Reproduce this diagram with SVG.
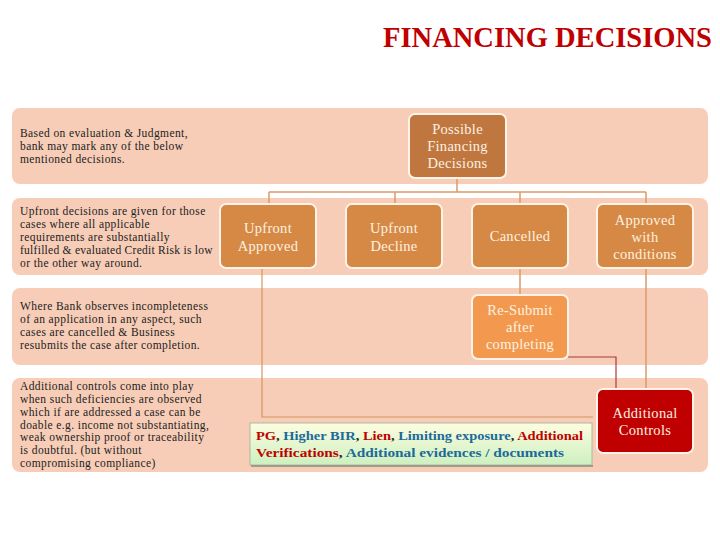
<svg xmlns="http://www.w3.org/2000/svg" width="720" height="540" viewBox="0 0 720 540">
<defs>
<linearGradient id="gr" x1="0" y1="0" x2="0" y2="1">
<stop offset="0" stop-color="#fdfde0"/>
<stop offset="1" stop-color="#cdf0c0"/>
</linearGradient>
<style>
.band{fill:#f7cdb7}
.desc{font-family:"Liberation Serif",serif;font-size:11.5px;letter-spacing:0.4px;fill:#222}
.node rect{stroke:#fdf3e8;stroke-width:2}
.nt{font-family:"Liberation Serif",serif;font-size:14.5px;letter-spacing:0.3px;fill:#fdf1e2;text-anchor:middle}
.c1{fill:none;stroke:#dc9a6a;stroke-width:1.5}
.red{fill:#c00000}
.blue{fill:#1c6a9a}
.blk{fill:#222}
</style>
</defs>
<rect width="720" height="540" fill="#fff"/>
<text x="712" y="47" text-anchor="end" font-family="Liberation Serif,serif" font-weight="bold" font-size="29" fill="#c00000" textLength="329" lengthAdjust="spacingAndGlyphs">FINANCING DECISIONS</text>

<g id="bands">
<rect class="band" x="12" y="108" width="696" height="76" rx="8"/>
<rect class="band" x="12" y="198" width="696" height="77" rx="8"/>
<rect class="band" x="12" y="288" width="696" height="77" rx="8"/>
<rect class="band" x="12" y="378" width="696" height="94" rx="8"/>
</g>

<g id="descriptions" class="desc">
<text x="20" y="137">Based on evaluation &amp; Judgment,</text>
<text x="20" y="150">bank may mark any of the below</text>
<text x="20" y="163">mentioned decisions.</text>
<text x="20" y="215">Upfront decisions are given for those</text>
<text x="20" y="228">cases where all applicable</text>
<text x="20" y="241">requirements are substantially</text>
<text x="20" y="254" textLength="193" lengthAdjust="spacing">fulfilled &amp; evaluated Credit Risk is low</text>
<text x="20" y="267">or the other way around.</text>
<text x="20" y="310">Where Bank observes incompleteness</text>
<text x="20" y="323">of an application in any aspect, such</text>
<text x="20" y="336">cases are cancelled &amp; Business</text>
<text x="20" y="349">resubmits the case after completion.</text>
<text x="20" y="390">Additional controls come into play</text>
<text x="20" y="403">when such deficiencies are observed</text>
<text x="20" y="416">which if are addressed a case can be</text>
<text x="20" y="429">doable e.g. income not substantiating,</text>
<text x="20" y="441">weak ownership proof or traceability</text>
<text x="20" y="454">is doubtful. (but without</text>
<text x="20" y="467">compromising compliance)</text>
</g>

<g id="connectors">
<path class="c1" d="M457 178V192M269 192H646M269 192V204M395 192V204M520 192V204M646 192V204"/>
<path class="c1" d="M520 268V295M646 268V389"/>
<path fill="none" stroke="#d49560" stroke-width="1.2" d="M262 268V417H593"/>
<path fill="none" stroke="#a83a3a" stroke-width="1.2" d="M568 357H616V389"/>
</g>

<g id="n-possible" class="node">
<rect x="409" y="114" width="97" height="64" rx="6" fill="#c0773f"/>
<text class="nt" x="457.5" y="134">Possible</text>
<text class="nt" x="457.5" y="151">Financing</text>
<text class="nt" x="457.5" y="168">Decisions</text>
</g>
<g id="n-upfront-approved" class="node">
<rect x="220" y="204" width="96" height="64" rx="6" fill="#d68944"/>
<text class="nt" x="268" y="233">Upfront</text>
<text class="nt" x="268" y="251">Approved</text>
</g>
<g id="n-upfront-decline" class="node">
<rect x="346" y="204" width="96" height="64" rx="6" fill="#d68944"/>
<text class="nt" x="394" y="233">Upfront</text>
<text class="nt" x="394" y="251">Decline</text>
</g>
<g id="n-cancelled" class="node">
<rect x="472" y="204" width="96" height="64" rx="6" fill="#d68944"/>
<text class="nt" x="520" y="241">Cancelled</text>
</g>
<g id="n-approved-conditions" class="node">
<rect x="597" y="204" width="96" height="64" rx="6" fill="#d68944"/>
<text class="nt" x="645" y="225">Approved</text>
<text class="nt" x="645" y="242">with</text>
<text class="nt" x="645" y="259">conditions</text>
</g>
<g id="n-resubmit" class="node">
<rect x="472" y="295" width="96" height="64" rx="6" fill="#f2994f"/>
<text class="nt" x="520" y="315">Re-Submit</text>
<text class="nt" x="520" y="332">after</text>
<text class="nt" x="520" y="349">completing</text>
</g>
<g id="n-additional-controls" class="node">
<rect x="597" y="389" width="96" height="64" rx="6" fill="#c00000"/>
<text class="nt" x="645" y="418">Additional</text>
<text class="nt" x="645" y="435">Controls</text>
</g>
<g id="n-controls-list">
<rect x="250" y="423" width="342" height="42" fill="url(#gr)" stroke="#b0b8a0" stroke-width="1"/>
<line x1="251" y1="466" x2="593" y2="466" stroke="#8a8a80" stroke-width="1.5"/>
<text x="256" y="440" font-family="Liberation Serif,serif" font-weight="bold" font-size="13" textLength="327" lengthAdjust="spacingAndGlyphs"><tspan class="red">PG</tspan><tspan class="blk">, </tspan><tspan class="blue">Higher BIR</tspan><tspan class="blk">, </tspan><tspan class="red">Lien</tspan><tspan class="blk">, </tspan><tspan class="blue">Limiting exposure</tspan><tspan class="blk">, </tspan><tspan class="red">Additional</tspan></text>
<text x="256" y="457" font-family="Liberation Serif,serif" font-weight="bold" font-size="13" textLength="308" lengthAdjust="spacingAndGlyphs"><tspan class="red">Verifications</tspan><tspan class="blk">, </tspan><tspan class="blue">Additional evidences / documents</tspan></text>
</g>
</svg>
